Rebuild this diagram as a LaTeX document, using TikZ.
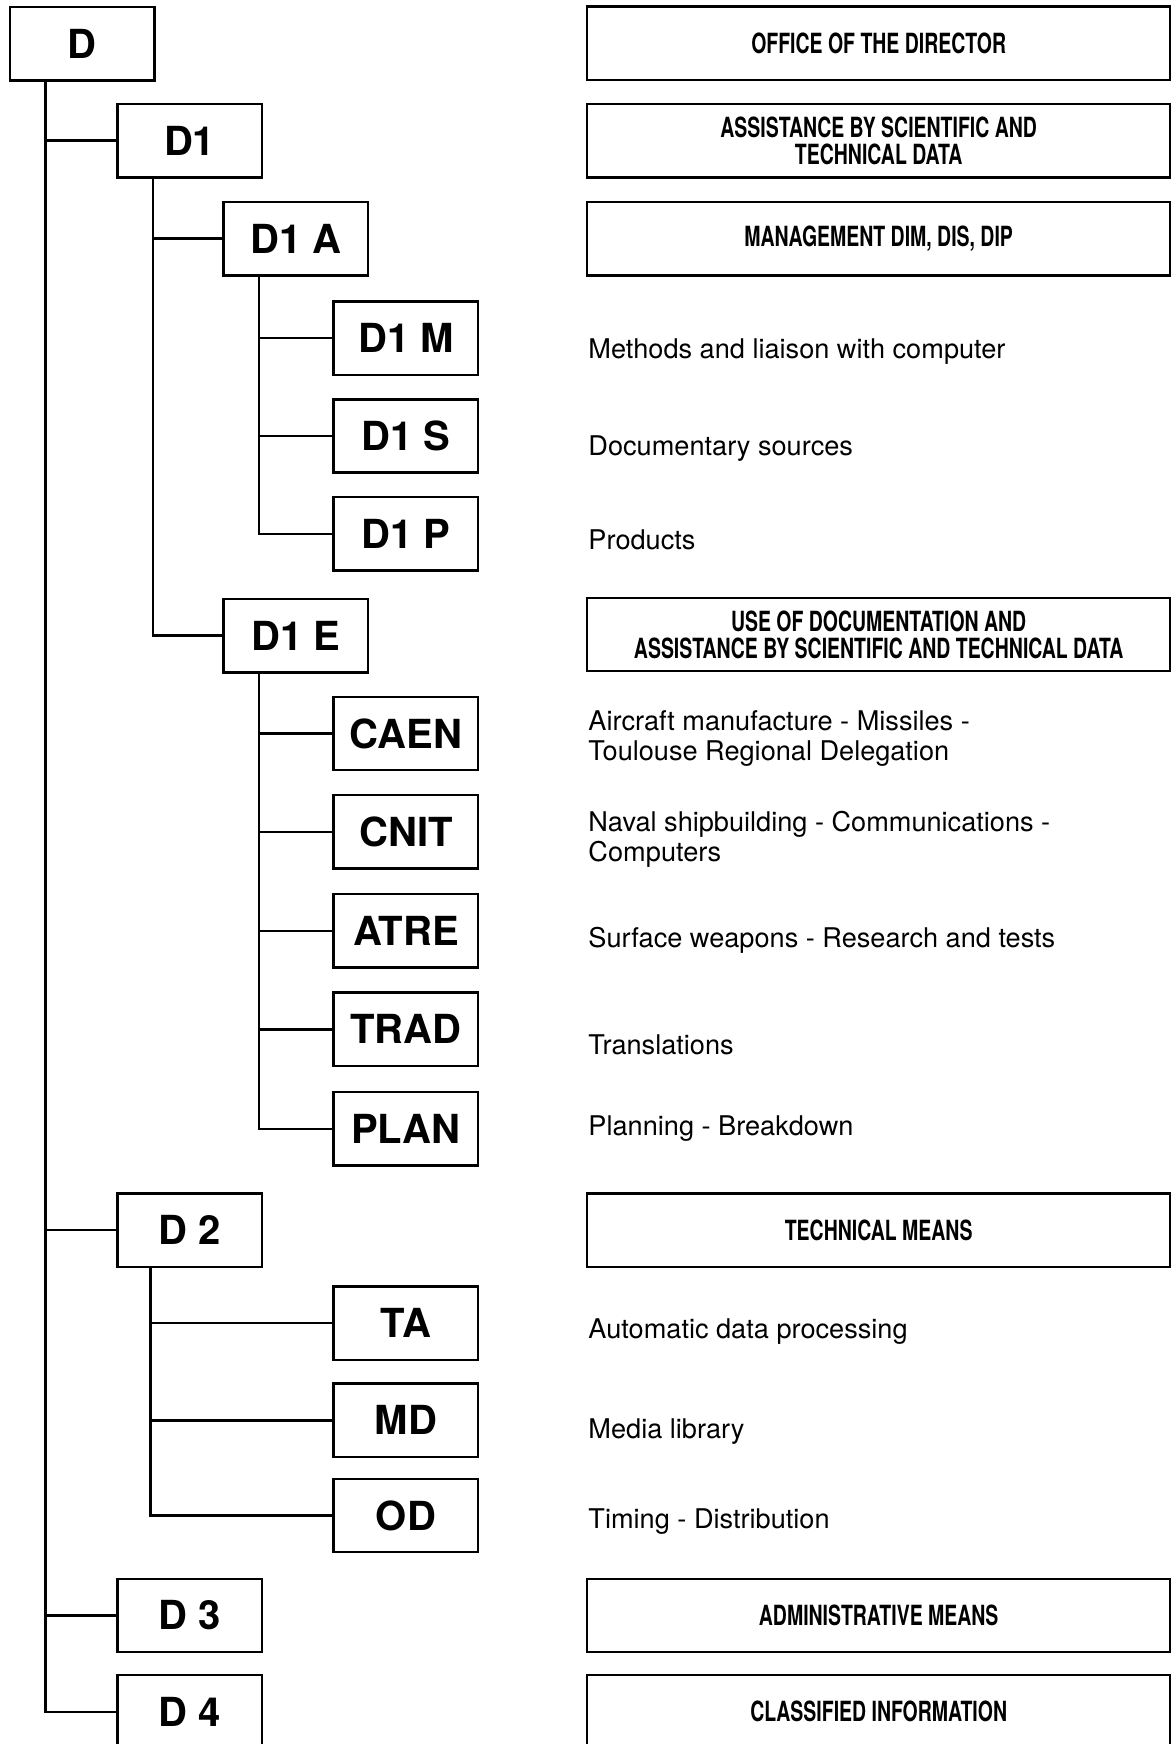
\documentclass[tikz,border=0pt]{standalone}
\usepackage{fontspec}
\setmainfont{TeX Gyre Heros}
\newfontfamily\capsfont[FakeStretch=0.7]{TeX Gyre Heros}

\begin{document}
\begin{tikzpicture}[x=0.5pt, y=-0.5pt, line width=1.1pt,
    unit/.style={draw, minimum width=65pt, minimum height=33pt, inner sep=0pt, font=\fontsize{18}{18}\selectfont\bfseries},
    title/.style={draw, minimum width=262pt, minimum height=33pt, inner sep=0pt, align=center, font=\capsfont\bfseries\fontsize{12.5}{12}\selectfont},
    desc/.style={anchor=west, inner sep=0pt, align=left, font=\fontsize{12.2}{13.5}\selectfont}]
    \useasboundingbox (0,0) rectangle (1056,1568);
    \clip (0,0) rectangle (1056,1568);

    % units
    \node[unit] (D) at (74,39.5) {D};
    \node[unit] (D1) at (170.5,126.5) {D1};
    \node[unit] (D1A) at (266,214.5) {D1 A};
    \node[unit] (D1M) at (365,304) {D1 M};
    \node[unit] (D1S) at (365,392) {D1 S};
    \node[unit] (D1P) at (365,480) {D1 P};
    \node[unit] (D1E) at (266,571.5) {D1 E};
    \node[unit] (CAEN) at (365,659.5) {CAEN};
    \node[unit] (CNIT) at (365,748) {CNIT};
    \node[unit] (ATRE) at (365,837) {ATRE};
    \node[unit] (TRAD) at (365,925.5) {TRAD};
    \node[unit] (PLAN) at (365,1015) {PLAN};
    \node[unit] (D2) at (170.5,1106) {D 2};
    \node[unit] (TA) at (365,1189.5) {TA};
    \node[unit] (MD) at (365,1277) {MD};
    \node[unit] (OD) at (365,1362.5) {OD};
    \node[unit] (D3) at (170.5,1452.5) {D 3};
    \node[unit] (D4) at (170.5,1539) {D 4};

    % links
    \draw ([xshift=16.5pt]D.south west) |- (D1.west);
    \draw ([xshift=16.5pt]D.south west) |- (D2.west);
    \draw ([xshift=16.5pt]D.south west) |- (D3.west);
    \draw ([xshift=16.5pt]D.south west) |- (D4.west);
    \draw ([xshift=16.5pt]D1.south west) |- (D1A.west);
    \draw ([xshift=16.5pt]D1.south west) |- (D1E.west);
    \draw ([xshift=16.5pt]D1A.south west) |- (D1M.west);
    \draw ([xshift=16.5pt]D1A.south west) |- (D1S.west);
    \draw ([xshift=16.5pt]D1A.south west) |- (D1P.west);
    \draw ([xshift=16.5pt]D1E.south west) |- (CAEN.west);
    \draw ([xshift=16.5pt]D1E.south west) |- (CNIT.west);
    \draw ([xshift=16.5pt]D1E.south west) |- (ATRE.west);
    \draw ([xshift=16.5pt]D1E.south west) |- (TRAD.west);
    \draw ([xshift=16.5pt]D1E.south west) |- (PLAN.west);
    \draw ([xshift=15.5pt]D2.south west) |- (TA.west);
    \draw ([xshift=15.5pt]D2.south west) |- (MD.west);
    \draw ([xshift=15.5pt]D2.south west) |- (OD.west);

    % boxed titles
    \node[title] (tD) at (790,39) {OFFICE OF THE DIRECTOR};
    \node[title] (tD1) at (790,126.5) {ASSISTANCE BY SCIENTIFIC AND\\TECHNICAL DATA};
    \node[title] (tD1A) at (790,214.5) {MANAGEMENT DIM, DIS, DIP};
    \node[title] (tD1E) at (790,570.5) {USE OF DOCUMENTATION AND\\ASSISTANCE BY SCIENTIFIC AND TECHNICAL DATA};
    \node[title] (tD2) at (790,1106) {TECHNICAL MEANS};
    \node[title] (tD3) at (790,1452.5) {ADMINISTRATIVE MEANS};
    \node[title] (tD4) at (790,1539) {CLASSIFIED INFORMATION};

    % descriptions
    \node[desc] (xD1M) at (528,316) {Methods and liaison with computer};
    \node[desc] (xD1S) at (528,403) {Documentary sources};
    \node[desc] (xD1P) at (528,485) {Products};
    \node[desc] (xCAEN) at (528,664) {Aircraft manufacture - Missiles -\\Toulouse Regional Delegation};
    \node[desc] (xCNIT) at (528,755) {Naval shipbuilding - Communications -\\Computers};
    \node[desc] (xATRE) at (528,845) {Surface weapons - Research and tests};
    \node[desc] (xTRAD) at (528,939) {Translations};
    \node[desc] (xPLAN) at (528,1015) {Planning - Breakdown};
    \node[desc] (xTA) at (528,1197) {Automatic data processing};
    \node[desc] (xMD) at (528,1287) {Media library};
    \node[desc] (xOD) at (528,1368) {Timing - Distribution};
\end{tikzpicture}
\end{document}
